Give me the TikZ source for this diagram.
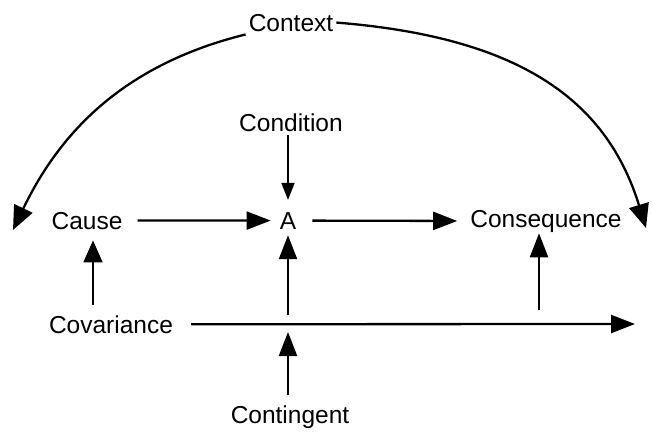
\documentclass[tikz,border=0pt]{standalone}
\usepackage{fontspec}
\setmainfont{Liberation Sans}
\usetikzlibrary{arrows.meta}
\begin{document}
\begin{tikzpicture}[x=1pt,y=-1pt,
  lbl/.style={inner sep=0pt,anchor=base,font=\fontsize{24.5}{28}\selectfont},
  arr/.style={line width=2.3pt,-{Triangle[length=24pt,width=18pt]}},
  arrsmall/.style={line width=1.8pt,-{Triangle[length=17pt,width=13pt]}},
  arrthin/.style={line width=1.7pt,-{Triangle[length=22pt,width=19pt]}},
  arcarr/.style={line width=2.3pt,-{Triangle[length=24pt,width=20pt]}}]
\useasboundingbox (0,0) rectangle (653,432);

% labels
\node[lbl,inner sep=3pt] (context) at (291,31) {Context};
\node[lbl] (condition) at (291,131) {Condition};
\node[lbl] (cause) at (87,229) {Cause};
\node[lbl] (A) at (288,229) {A};
\node[lbl] (conseq) at (546,227) {Consequence};
\node[lbl] (covariance) at (111,333) {Covariance};
\node[lbl] (contingent) at (290,423) {Contingent};

% free ends
\coordinate (covend) at (635,324);
\coordinate (aup) at (288,315);
\coordinate (cqup) at (539,310);
\coordinate (ctend) at (288,332);
\coordinate (ltip) at (13,230);
\coordinate (rtip) at (646,228);

% main chain
\draw[arr,shorten <=15pt,shorten >=9pt] (cause.east) -- (A.west);
\draw[arr,shorten <=16pt,shorten >=13pt] (A.east) -- (conseq.west);
\draw[arrsmall,shorten <=4pt,shorten >=12pt] (condition.south -| A.north) -- (A.north);

% covariance
\draw[arrthin,shorten <=10pt,shorten >=11pt]
  ([xshift=6pt]cause.south |- covariance.north) -- ([xshift=6pt]cause.south);
\draw[arr,shorten <=18pt] (covariance.east) -- (covend);
\draw[arr,shorten >=6pt] (aup) -- (A.south);
\draw[arr,shorten >=1pt] (cqup) -- (cqup |- conseq.south);

% contingent
\draw[arr,shorten <=10pt] (contingent.north -| ctend) -- (ctend);

% context arcs
\draw[arcarr] (context.south west) .. controls (126,64) and (61,130) .. (ltip);
\draw[arcarr] (context.east) .. controls (517,37) and (606,98) .. (rtip);
\end{tikzpicture}
\end{document}
